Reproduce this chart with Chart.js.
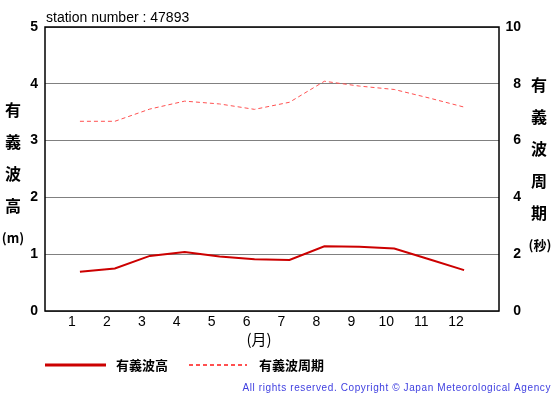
<!DOCTYPE html>
<html>
<head>
<meta charset="utf-8">
<style>
  html, body { margin: 0; padding: 0; background: #fff; }
  canvas { display: block; }
</style>
<script src="https://cdn.jsdelivr.net/npm/chart.js@4.4.0/dist/chart.umd.min.js"></script>
</head>
<body>
<canvas id="wave" width="555" height="395"></canvas>
<script>
const months = ['1', '2', '3', '4', '5', '6', '7', '8', '9', '10', '11', '12'];
const waveHeight = [0.69, 0.75, 0.97, 1.04, 0.96, 0.91, 0.90, 1.14, 1.13, 1.10, 0.91, 0.72];
const wavePeriod = [6.68, 6.68, 7.11, 7.39, 7.29, 7.10, 7.35, 8.09, 7.92, 7.80, 7.50, 7.18];
const heightTicks = ['0', '1', '2', '3', '4', '5'];
const periodTicks = ['0', '2', '4', '6', '8', '10'];

const LATIN = '"Liberation Sans", Arial, sans-serif';
const CJK = '"Noto Sans CJK JP", sans-serif';

// titles, legend, frame and copyright
const decorations = {
  id: 'decorations',
  afterDraw(chart) {
    const ctx = chart.ctx;
    const a = chart.chartArea;
    ctx.save();

    ctx.strokeStyle = '#000';
    ctx.lineWidth = 1.5;
    ctx.strokeRect(a.left, a.top, a.right - a.left, a.bottom - a.top);

    ctx.fillStyle = '#000';
    ctx.font = '14px ' + LATIN;
    ctx.textAlign = 'left';
    ctx.textBaseline = 'alphabetic';
    ctx.fillText('station number : 47893', 46, 22);

    ctx.textAlign = 'center';
    ctx.textBaseline = 'middle';
    ctx.font = 'bold 16px ' + CJK;
    ['有', '義', '波', '高'].forEach((c, i) => ctx.fillText(c, 13, 110 + i * 32));
    ctx.font = 'bold 13px ' + CJK;
    ctx.fillText('(m)', 13, 238);

    ctx.font = 'bold 16px ' + CJK;
    ['有', '義', '波', '周', '期'].forEach((c, i) => ctx.fillText(c, 539, 85 + i * 32));
    ctx.font = 'bold 13px ' + CJK;
    ctx.fillText('(秒)', 540, 245);

    ctx.font = '15px ' + CJK;
    ctx.fillText('(月)', 259, 339);

    // legend
    ctx.strokeStyle = '#cc0000';
    ctx.lineWidth = 3;
    ctx.beginPath();
    ctx.moveTo(45, 365);
    ctx.lineTo(106, 365);
    ctx.stroke();
    ctx.strokeStyle = '#ff5050';
    ctx.lineWidth = 2;
    ctx.setLineDash([4, 3]);
    ctx.beginPath();
    ctx.moveTo(189, 365);
    ctx.lineTo(247, 365);
    ctx.stroke();
    ctx.setLineDash([]);

    ctx.fillStyle = '#000';
    ctx.textAlign = 'left';
    ctx.font = 'bold 13px ' + CJK;
    ctx.fillText('有義波高', 116, 365);
    ctx.fillText('有義波周期', 259, 365);

    ctx.fillStyle = '#4040e0';
    ctx.font = '10px ' + LATIN;
    ctx.letterSpacing = '0.6px';
    ctx.textAlign = 'right';
    ctx.fillText('All rights reserved. Copyright © Japan Meteorological Agency', 551, 388);
    ctx.restore();
  }
};

new Chart(document.getElementById('wave'), {
  type: 'line',
  data: {
    datasets: [
      {
        label: '有義波高',
        data: waveHeight.map((v, i) => ({ x: i + 1, y: v })),
        yAxisID: 'y',
        borderColor: '#cc0000',
        borderWidth: 2,
        pointRadius: 0,
        tension: 0
      },
      {
        label: '有義波周期',
        data: wavePeriod.map((v, i) => ({ x: i + 1, y: v })),
        yAxisID: 'y1',
        borderColor: '#ff5050',
        borderWidth: 1,
        borderDash: [4, 3],
        pointRadius: 0,
        tension: 0
      }
    ]
  },
  options: {
    responsive: false,
    devicePixelRatio: 1,
    animation: false,
    layout: { padding: { left: 0, right: 34, top: 27, bottom: 0 } },
    plugins: { legend: { display: false }, tooltip: { enabled: false } },
    scales: {
      x: {
        type: 'linear',
        min: 0,
        max: 13,
        afterFit(scale) { scale.height = 84; },
        grid: { display: false, drawTicks: false, tickLength: 0 },
        border: { display: false },
        ticks: {
          stepSize: 1,
          autoSkip: false,
          maxRotation: 0,
          padding: 3,
          labelOffset: -8,
          color: '#000',
          font: { family: LATIN, size: 14 },
          callback: v => months[v - 1] || ''
        }
      },
      y: {
        position: 'left',
        min: 0,
        max: 5,
        afterFit(scale) { scale.width = 45; },
        grid: { color: '#808080', lineWidth: 1, drawTicks: false },
        border: { display: false },
        ticks: {
          stepSize: 1,
          padding: 7,
          color: '#000',
          font: { family: LATIN, size: 14, weight: 'bold' },
          callback: v => heightTicks[v]
        }
      },
      y1: {
        position: 'right',
        min: 0,
        max: 10,
        afterFit(scale) { scale.width = 22; },
        grid: { display: false, drawTicks: false },
        border: { display: false },
        ticks: {
          stepSize: 2,
          padding: 6,
          crossAlign: 'far',
          color: '#000',
          font: { family: LATIN, size: 14, weight: 'bold' },
          callback: v => periodTicks[v / 2]
        }
      }
    }
  },
  plugins: [decorations]
});
</script>
</body>
</html>
